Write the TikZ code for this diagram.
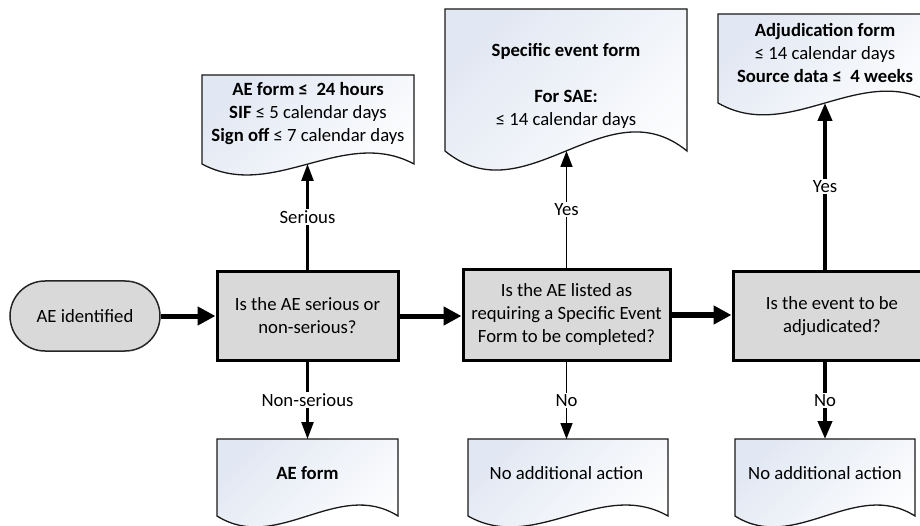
\documentclass[tikz,border=0pt]{standalone}
\usepackage{fontspec}
\setmainfont{Carlito}
\usetikzlibrary{arrows.meta}
\definecolor{boxgray}{HTML}{D9D9D9}
\definecolor{docblue}{HTML}{E2E8F3}
\tikzset{
  basefont/.style={font=\fontsize{18.7}{23}\selectfont},
  decbox/.style={rectangle, draw=black, line width=3pt, fill=boxgray, align=center, inner sep=0pt, basefont},
  termbox/.style={rectangle, rounded corners=35pt, draw=black!85, line width=1.5pt, fill=boxgray, minimum width=150pt, minimum height=70pt, basefont},
  docshape/.style={draw=black!90, line width=1.3pt, top color=docblue, bottom color=white, shading angle=45},
  doctext/.style={align=center, inner sep=0pt, basefont},
  lab/.style={fill=white, inner sep=1.5pt, basefont},
  thickarrow/.style={line width=5pt, -{Triangle[length=18pt,width=18pt]}},
  midarrow/.style={line width=2.5pt, -{Triangle[length=17pt,width=12pt]}},
  thinarrow/.style={line width=1.5pt, -{Triangle[length=16pt,width=12pt]}},
  heavyarrow/.style={line width=4pt, -{Triangle[length=18pt,width=14pt]}},
}
\begin{document}
\begin{tikzpicture}[x=1pt,y=-1pt]
\useasboundingbox (0,0) rectangle (920,526);
\fill[white] (0,0) rectangle (920,526);
\clip (0,0) rectangle (920,526);

% document shapes
\draw[docshape] (202,75) -- (414,75) -- (414,164) .. controls (343.3,126) and (272.7,202) .. (202,164) -- cycle;
\draw[docshape] (445,9) -- (687,9) -- (687,151) .. controls (606.3,85) and (525.7,217) .. (445,151) -- cycle;
\draw[docshape] (718,14) -- (932,14) -- (932,103) .. controls (860.7,62) and (789.3,144) .. (718,103) -- cycle;
\draw[docshape] (217,439) -- (398,439) -- (398,516) .. controls (337.7,478) and (277.3,554) .. (217,516) -- cycle;
\draw[docshape] (468,439) -- (668,439) -- (668,516) .. controls (601.3,478) and (534.7,554) .. (468,516) -- cycle;
\draw[docshape] (735,439) -- (915,439) -- (915,516) .. controls (855,478) and (795,554) .. (735,516) -- cycle;

\coordinate (d1w) at (307.5,164);
\coordinate (d2w) at (566.5,151);
\coordinate (d3w) at (825,103);
\coordinate (d4t) at (307.5,439);
\coordinate (d5t) at (566.5,439);
\coordinate (d6t) at (825,439);

% document texts
\node[doctext] (d1) at (308,114) {\textbf{AE form ≤~~24 hours}\\\textbf{SIF} ≤ 5 calendar days\\\textbf{Sign off} ≤ 7 calendar days};
\node[doctext] (d2) at (566,85.5) {\textbf{Specific event form}\\[23pt]\textbf{For SAE:}\\≤ 14 calendar days};
\node[doctext] (d3) at (825,53) {\textbf{Adjudication form}\\≤ 14 calendar days\\\textbf{Source data ≤~~4 weeks}};
\node[doctext] (d4) at (307.5,473) {\textbf{AE form}};
\node[doctext] (d5) at (566.5,473) {No additional action};
\node[doctext] (d6) at (825,473) {No additional action};

% process nodes
\node[termbox] (start) at (85,316) {AE identified};
\node[decbox, minimum width=181pt, minimum height=88pt] (q1) at (307.5,316) {Is the AE serious or\\non-serious?};
\node[decbox, minimum width=207pt, minimum height=90pt] (q2) at (566.5,315) {Is the AE listed as\\requiring a Specific Event\\Form to be completed?};
\node[decbox, minimum width=198pt, minimum height=88pt] (q3) at (832,316) {Is the event to be\\adjudicated?};

% connectors
\draw[thickarrow] (start.east) -- (q1.west);
\draw[thickarrow] (q1.east) -- (q1.east -| q2.west);
\draw[thickarrow] (q2.east) -- (q2.east -| q3.west);

\draw[midarrow] (q1.north) -- node[lab] {Serious} (d1w);
\draw[midarrow] (q1.south) -- node[lab] {Non-serious} (d4t);
\draw[thinarrow] (q2.north) -- node[lab] {Yes} (d2w);
\draw[thinarrow] (q2.south) -- node[lab] {No} (d5t);
\draw[heavyarrow] (q3.north -| d3w) -- node[lab] {Yes} (d3w);
\draw[heavyarrow] (q3.south -| d6t) -- node[lab] {No} (d6t);
\end{tikzpicture}
\end{document}
